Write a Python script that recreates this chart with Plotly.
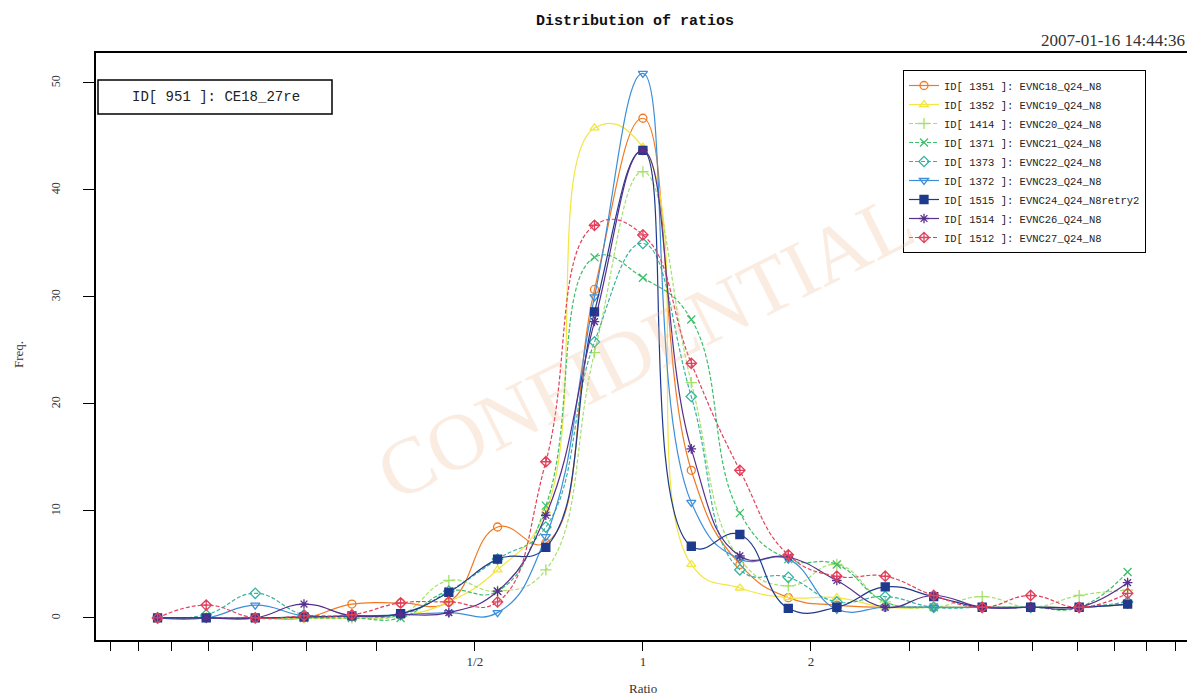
import plotly.graph_objects as go

# ---------------- data ----------------
ratio_bins = [0.135, 0.165, 0.202, 0.247, 0.301, 0.368, 0.449, 0.549, 0.670, 0.819,
              1.000, 1.221, 1.492, 1.822, 2.226, 2.718, 3.320, 4.055, 4.953, 6.050, 7.389]

series_names = [
    "ID[ 1351 ]: EVNC18_Q24_N8",
    "ID[ 1352 ]: EVNC19_Q24_N8",
    "ID[ 1414 ]: EVNC20_Q24_N8",
    "ID[ 1371 ]: EVNC21_Q24_N8",
    "ID[ 1373 ]: EVNC22_Q24_N8",
    "ID[ 1372 ]: EVNC23_Q24_N8",
    "ID[ 1515 ]: EVNC24_Q24_N8retry2",
    "ID[ 1514 ]: EVNC26_Q24_N8",
    "ID[ 1512 ]: EVNC27_Q24_N8",
]

freq_1351 = [0, 0, 0, 0, 1.3, 1.4, 1.5, 8.5, 7.0, 30.7, 46.7, 13.8, 5.0, 1.9, 1.2, 1.0, 1.0, 1.0, 1.0, 1.0, 1.3]
freq_1352 = [0, 0, 0, 0, 0, 0.2, 1.5, 4.5, 10.0, 45.8, 44.0, 5.0, 2.8, 1.9, 1.9, 1.0, 1.0, 1.0, 1.0, 1.0, 1.3]
freq_1414 = [0, 0, 0, 0, 0, 0.3, 3.5, 2.5, 4.5, 24.8, 41.7, 22.0, 5.5, 3.0, 5.0, 1.5, 1.0, 2.0, 1.0, 2.1, 2.6]
freq_1371 = [0, 0, 0, 0, 0, 0, 2.5, 2.5, 10.5, 33.7, 31.8, 27.9, 9.8, 5.5, 5.0, 1.5, 1.0, 1.0, 1.0, 1.0, 4.3]
freq_1373 = [0, 0.3, 2.3, 0.3, 0.2, 0.3, 2.5, 5.5, 8.5, 25.8, 35.0, 20.7, 4.5, 3.8, 1.5, 2.0, 1.0, 1.0, 1.0, 1.0, 1.5]
freq_1372 = [0, 0, 1.2, 0.2, 0.2, 0.3, 0.5, 0.5, 7.6, 30.0, 50.9, 10.8, 5.5, 5.5, 0.8, 1.0, 1.0, 1.0, 1.0, 1.0, 1.3]
freq_1515 = [0, 0, 0, 0.1, 0.2, 0.4, 2.4, 5.5, 6.6, 28.6, 43.7, 6.7, 7.8, 0.9, 1.0, 2.9, 2.0, 1.0, 1.0, 1.0, 1.3]
freq_1514 = [0, 0, 0, 1.3, 0.2, 0.3, 0.5, 2.5, 9.6, 27.7, 43.7, 15.8, 5.8, 5.7, 3.5, 1.0, 2.1, 1.0, 1.0, 1.0, 3.3]
freq_1512 = [0, 1.2, 0, 0.2, 0.3, 1.4, 1.5, 1.5, 14.6, 36.7, 35.8, 23.8, 13.8, 5.9, 3.9, 3.9, 2.1, 1.0, 2.1, 1.0, 2.3]

all_freqs = [freq_1351, freq_1352, freq_1414, freq_1371, freq_1373,
             freq_1372, freq_1515, freq_1514, freq_1512]

x_tick_vals = [1/9, 1/8, 1/7, 1/6, 1/5, 1/4, 1/3, 1/2, 1, 2, 3, 4, 5, 6, 7, 8, 9]
x_tick_text = ["", "", "", "", "", "", "", "1/2", "1", "2", "", "", "", "", "", "", ""]
y_tick_vals = [0, 10, 20, 30, 40, 50]

# ---------------- styles ----------------
colors = ["#F07A22", "#F2E640", "#A6E06A", "#3DBE6A", "#36B39E",
          "#3D8ED8", "#1E3A8C", "#56308C", "#E2405C"]
symbols = ["circle-open", "triangle-up-open", "cross-thin-open", "x-thin-open",
           "diamond-open", "triangle-down-open", "square", "asterisk-open",
           "diamond-cross-open"]
dashes = ["solid", "solid", "4px,2px", "4px,2px", "4px,2px",
          "solid", "solid", "solid", "4px,2px"]

fig = go.Figure()
for name, ys, c, s, d in zip(series_names, all_freqs, colors, symbols, dashes):
    fig.add_trace(go.Scatter(
        x=ratio_bins, y=ys, name=name, mode="lines+markers",
        line=dict(color=c, width=1.2, shape="spline", smoothing=1.3, dash=d),
        marker=dict(symbol=s, size=8, color=c, line=dict(color=c, width=1.3)),
    ))

W, H = 1187, 695
L, R, T, B = 96, 0, 53, 55
pw, ph = W - L - R, H - T - B

def px(xp):
    return (xp - L) / pw

def py(yp):
    return (H - B - yp) / ph

serif = "Liberation Serif"
mono = "Liberation Mono"

fig.update_layout(
    width=W, height=H,
    margin=dict(l=L, r=R, t=T, b=B),
    paper_bgcolor="white", plot_bgcolor="white",
    title=dict(text="<b>Distribution of ratios</b>", x=635 / W, xanchor="center",
               y=1 - 20 / H, yanchor="middle",
               font=dict(family=mono, size=15, color="#111")),
    legend=dict(x=px(903), y=py(70), xanchor="left", yanchor="top",
                bgcolor="white", bordercolor="black", borderwidth=1,
                font=dict(family=mono, size=10.5, color="#222"),
                tracegroupgap=0),
    showlegend=True,
)

fig.update_xaxes(
    type="log", range=[-0.980, 0.975],
    tickvals=x_tick_vals, ticktext=x_tick_text,
    ticks="outside", ticklen=9, tickwidth=1.2, tickcolor="black",
    showline=True, linecolor="black", linewidth=1.5, mirror=True,
    showgrid=False, zeroline=False,
    tickfont=dict(family=serif, size=13, color="#333"),
)
fig.update_yaxes(
    range=[-2.06, 52.8],
    tickvals=y_tick_vals, ticks="outside", ticklen=11, tickwidth=1.2, tickcolor="black",
    tickangle=-90, ticklabelstandoff=18,
    showline=True, linecolor="black", linewidth=1.5, mirror=False,
    showgrid=False, zeroline=False,
    tickfont=dict(family=serif, size=12, color="#333"),
)

# ID box top-left
fig.add_shape(type="rect", xref="paper", yref="paper",
              x0=px(98), x1=px(332), y0=py(114), y1=py(80),
              line=dict(color="black", width=1.5), fillcolor="white", layer="above")
fig.add_annotation(xref="paper", yref="paper", x=px(216), y=py(97),
                   xanchor="center", yanchor="middle",
                   text="ID[ 951 ]: CE18_27re", showarrow=False,
                   font=dict(family=mono, size=14, color="#222"))

# timestamp
fig.add_annotation(xref="paper", yref="paper", x=1.0, y=py(40), xanchor="right",
                   yanchor="middle", text="2007-01-16 14:44:36", showarrow=False,
                   font=dict(family=serif, size=17, color="#333"))

# axis titles
fig.add_annotation(xref="paper", yref="paper", x=px(643), y=py(688),
                   xanchor="center", yanchor="middle",
                   text="Ratio", showarrow=False,
                   font=dict(family=serif, size=13, color="#333"))
fig.add_annotation(xref="paper", yref="paper", x=px(18), y=py(355),
                   xanchor="center", yanchor="middle",
                   text="Freq.", showarrow=False, textangle=-90,
                   font=dict(family=serif, size=13, color="#333"))

# watermark
fig.add_annotation(xref="paper", yref="paper", x=px(645), y=py(347),
                   xanchor="center", yanchor="middle",
                   text="CONFIDENTIAL", showarrow=False, textangle=-26.6,
                   opacity=0.25,
                   font=dict(family=serif, size=80, color="#F0B890"))

fig.write_html("out.html")
